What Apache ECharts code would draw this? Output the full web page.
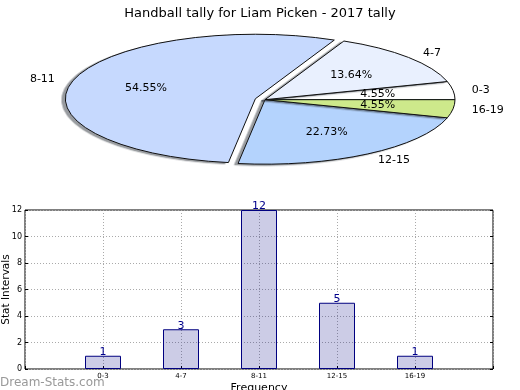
<!DOCTYPE html>
<html><head><meta charset="utf-8">
<script src="https://cdn.jsdelivr.net/npm/echarts@6/dist/echarts.min.js"></script>
<style>
html,body{margin:0;padding:0;background:#fff;}
#wrap{position:relative;width:520px;height:390px;overflow:hidden;background:#fff;}
#pie{position:absolute;left:0;width:520px;z-index:0;}
#pie svg{display:block;}
#pie path{vector-effect:non-scaling-stroke;}
#main{position:absolute;left:0;top:0;width:520px;height:390px;z-index:1;}
</style></head><body>
<div id="wrap"><div id="pie"></div><div id="main"></div></div>
<script>
var chartTitle = 'Handball tally for Liam Picken - 2017 tally';
var categories = ['0-3', '4-7', '8-11', '12-15', '16-19'];
var values = [1, 3, 12, 5, 1];
var pieColors = ['#ffffff', '#e9f0fe', '#c6d9fe', '#b4d3fd', '#cde98b'];
var exploded = [false, false, true, false, false];
var yMin = 0, yMax = 12, yStep = 2;
var xAxisName = 'Frequency';
var yAxisName = 'Stat Intervals';
var watermark = 'Dream-Stats.com';

var FONT = 'DejaVu Sans';
var R = 190, K = 64.5 / 190, CX = 265, CY = 100, PH = 440, OFF = 10;
var total = values.reduce(function (a, b) { return a + b; }, 0);

// ---- pie sectors layer (rendered by ECharts as SVG, then squashed vertically) ----
var pc = echarts.init(null, null, {renderer: 'svg', ssr: true, width: 520, height: PH});
pc.setOption({
  animation: false,
  series: [{
    type: 'pie', center: [CX, PH / 2], radius: R, startAngle: 0, clockwise: false,
    selectedMode: 'multiple', selectedOffset: OFF,
    label: {show: false}, labelLine: {show: false},
    itemStyle: {borderColor: '#111', borderWidth: 1, shadowColor: 'rgba(50,55,65,0.5)',
      shadowBlur: 0, shadowOffsetX: -3.5, shadowOffsetY: 3.8},
    data: categories.map(function (c, i) {
      return {name: c, value: values[i], selected: exploded[i], itemStyle: {color: pieColors[i]}};
    })
  }]
});
var pieDiv = document.getElementById('pie');
pieDiv.innerHTML = pc.renderToSVGString();
var svgEl = pieDiv.querySelector('svg');
svgEl.setAttribute('viewBox', '0 0 520 ' + PH);
svgEl.setAttribute('preserveAspectRatio', 'none');
svgEl.setAttribute('width', 520);
svgEl.setAttribute('height', PH * K);
svgEl.style.width = '520px';
svgEl.style.height = (PH * K) + 'px';
pieDiv.style.top = (CY - PH / 2 * K) + 'px';
pieDiv.style.height = (PH * K) + 'px';

// ---- main chart ----
function mkLayout(f, sideAlign) {
  return function (p) {
    var lx = p.labelRect.x + p.labelRect.width / 2;
    var ly = p.labelRect.y + p.labelRect.height / 2;
    var dx = lx - CX, dy = ly - CY;
    var d = Math.sqrt(dx * dx + dy * dy) || 1;
    var ux = dx / d, uy = dy / d;
    var rr = f * R + (exploded[p.dataIndex] ? OFF : 0);
    var o = {x: CX + ux * rr, y: CY + uy * rr * K, verticalAlign: 'middle'};
    o.align = sideAlign ? (ux > 0 ? 'left' : 'right') : 'center';
    return o;
  };
}
function labelPie(fmt, f, side) {
  return {
    type: 'pie', center: [CX, CY], radius: R, startAngle: 0, clockwise: false, silent: true,
    itemStyle: {color: 'transparent', borderWidth: 0},
    label: {show: true, position: 'inside', formatter: fmt, fontFamily: FONT, fontSize: 11, color: '#000'},
    labelLine: {show: false},
    labelLayout: mkLayout(f, side),
    data: categories.map(function (c, i) { return {name: c, value: values[i]}; })
  };
}
var axisCats = [''].concat(categories, ['']);
var barData = [null].concat(values, [null]);

var chart = echarts.init(document.getElementById('main'), null, {renderer: 'canvas'});
chart.setOption({
  animation: false,
  backgroundColor: 'transparent',
  textStyle: {fontFamily: FONT},
  title: {text: chartTitle, left: 'center', top: 2,
    textStyle: {fontFamily: FONT, fontSize: 13, fontWeight: 'normal', color: '#000'}},
  grid: {left: 25, right: 27, top: 210, bottom: 21, show: true, borderColor: '#000', borderWidth: 1,
    containLabel: false, outerBoundsMode: 'none'},
  xAxis: {
    type: 'category', data: axisCats, boundaryGap: false,
    axisLine: {show: false},
    axisTick: {show: true, inside: true, length: 3, interval: 0, lineStyle: {color: '#000'}},
    axisLabel: {fontFamily: FONT, fontSize: 7, color: '#000', margin: 4, interval: 0},
    splitLine: {show: true, interval: 0, lineStyle: {type: [1, 2], color: '#aaa'}},
    name: xAxisName, nameLocation: 'middle', nameGap: 14, nameMoveOverlap: false,
    nameTextStyle: {fontFamily: FONT, fontSize: 11, color: '#000'}
  },
  yAxis: [{
    type: 'value', min: yMin, max: yMax, interval: yStep,
    axisLine: {show: false},
    axisTick: {show: true, inside: true, length: 3, lineStyle: {color: '#000'}},
    axisLabel: {fontFamily: FONT, fontSize: 8, color: '#000', margin: 3},
    splitLine: {show: true, lineStyle: {type: [1, 2], color: '#aaa'}},
    name: yAxisName, nameLocation: 'middle', nameGap: 13, nameMoveOverlap: false,
    nameTextStyle: {fontFamily: FONT, fontSize: 10.5, color: '#000'}
  }, {
    type: 'value', position: 'right', min: yMin, max: yMax, interval: yStep,
    axisLine: {show: false},
    axisTick: {show: true, inside: true, length: 3, lineStyle: {color: '#000'}},
    axisLabel: {show: false}, splitLine: {show: false}
  }],
  graphic: [{
    type: 'text', left: 0, top: 377, z: 10,
    style: {text: watermark, fontFamily: FONT, fontSize: 12, fill: '#999'}
  }],
  series: [
    {
      type: 'bar', data: barData, barWidth: 36, yAxisIndex: 0,
      itemStyle: {color: 'rgba(0,0,128,0.2)', borderColor: '#000080', borderWidth: 1},
      label: {show: true, position: 'top', distance: -2, color: '#00008b', fontFamily: FONT, fontSize: 11}
    },
    labelPie(function (p) { return (p.value / total * 100).toFixed(2) + '%'; }, 0.6, false),
    labelPie('{b}', 1.1, true)
  ]
});
</script>
</body></html>
